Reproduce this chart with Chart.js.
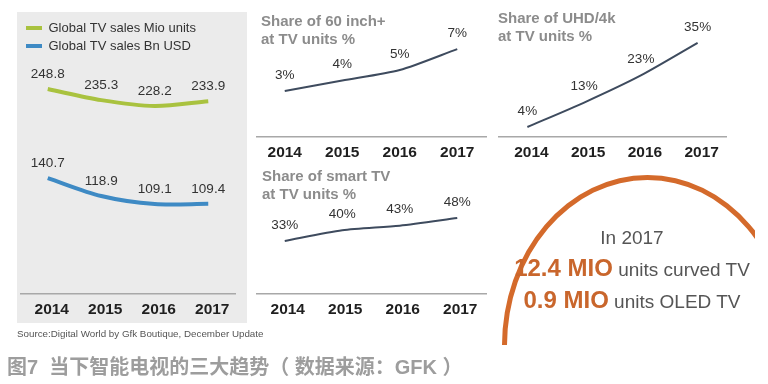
<!DOCTYPE html>
<html>
<head>
<meta charset="utf-8">
<script src="https://cdn.jsdelivr.net/npm/chart.js@4.4.1/dist/chart.umd.min.js"></script>
<style>
  html, body { margin: 0; padding: 0; background: #fff; }
  body { width: 768px; height: 384px; position: relative; overflow: hidden; font-family: "Liberation Sans", Arial, sans-serif; }
  canvas, .box { position: absolute; }
  #panel { left: 17px; top: 12px; width: 230px; height: 311px; background: #ebebeb; }
  #source { position: absolute; left: 17px; top: 328px; font-size: 9.8px; color: #555; }
  #caption { position: absolute; left: 7px; top: 351px; font-size: 20px; font-weight: bold; color: #9d9d9d;
             font-family: "Liberation Sans", "Noto Sans CJK SC", sans-serif; white-space: pre; }
  #ringClip { left: 490px; top: 160px; width: 265px; height: 185px; overflow: hidden; }
  #ring { left: 12px; top: 15px; width: 291px; height: 341px; box-sizing: border-box;
          border: 5px solid #d46a2b; border-radius: 50%; }
  #note { left: 500px; top: 224px; width: 264px; text-align: center; color: #555; }
  #note div { white-space: nowrap; }
  #note b { color: #c9662c; font-size: 24px; }
</style>
</head>
<body>
<div class="box" id="panel"></div>
<canvas id="salesChart" width="230" height="317" style="left:17px;top:12px"></canvas>
<canvas id="inch60Chart" width="232" height="166" style="left:256px;top:8px"></canvas>
<canvas id="uhdChart" width="240" height="166" style="left:496px;top:8px"></canvas>
<canvas id="smartChart" width="232" height="166" style="left:256px;top:166px"></canvas>

<div class="box" id="ringClip"><div class="box" id="ring"></div></div>
<div class="box" id="note">
  <div style="font-size:19px;line-height:28px">In 2017</div>
  <div style="font-size:19px;line-height:32px"><b>12.4 MIO</b> units curved TV</div>
  <div style="font-size:19px;line-height:28px"><b>0.9 MIO</b> units OLED TV</div>
</div>
<div id="source">Source:Digital World by Gfk Boutique, December Update</div>
<div id="caption">图7  当下智能电视的三大趋势（ 数据来源：GFK ）</div>

<script>
const FONT = '"Liberation Sans", Arial, sans-serif';

const years = ['2014', '2015', '2016', '2017'];
const salesUnits = [248.8, 235.3, 228.2, 233.9];
const salesUsd = [140.7, 118.9, 109.1, 109.4];
const share60 = [3, 4, 5, 7];
const shareUhd = [4, 13, 23, 35];
const shareSmart = [33, 40, 43, 48];

// value written above every point
const valueLabels = {
    id: 'valueLabels',
    afterDatasetsDraw(chart, args, opts) {
        const ctx = chart.ctx;
        ctx.save();
        ctx.font = '13.5px ' + FONT;
        ctx.fillStyle = '#333';
        ctx.textAlign = 'center';
        ctx.textBaseline = 'middle';
        chart.data.datasets.forEach((ds, i) => {
            chart.getDatasetMeta(i).data.forEach((pt, j) => {
                ctx.fillText(opts.format(ds.data[j]), pt.x, pt.y - opts.offset);
            });
        });
        ctx.restore();
    }
};

// grey two line heading in the corner
const heading = {
    id: 'heading',
    afterDraw(chart, args, opts) {
        if (!opts.lines) return;
        const ctx = chart.ctx;
        ctx.save();
        ctx.font = 'bold 15px ' + FONT;
        ctx.fillStyle = '#8c8c8c';
        ctx.textBaseline = 'middle';
        opts.lines.forEach((t, i) => ctx.fillText(t, opts.x, opts.y + i * 17.5));
        ctx.restore();
    }
};

function xAxis(labelOffset) {
    return {
        type: 'category',
        offset: true,
        grid: { display: false, drawTicks: false },
        border: { display: true, color: '#a8a8a8', width: 1.5 },
        ticks: {
            color: '#1f1f1f', padding: 6, labelOffset: labelOffset, maxRotation: 0, autoSkip: false,
            font: { family: FONT, size: 15.5, weight: 'bold' }
        }
    };
}

function shareChart(id, data, yMin, yMax, padding, title, labelOffset) {
    return new Chart(document.getElementById(id), {
        type: 'line',
        data: {
            labels: years,
            datasets: [{
                data: data, borderColor: '#3e4b5e', borderWidth: 2, tension: 0.25,
                pointRadius: 0, fill: false, clip: false
            }]
        },
        options: {
            responsive: false, animation: false, events: [],
            layout: { padding: padding },
            scales: { x: xAxis(labelOffset), y: { display: false, min: yMin, max: yMax } },
            plugins: {
                legend: { display: false }, tooltip: { enabled: false },
                valueLabels: { offset: 16, format: v => v + '%' },
                heading: title
            }
        },
        plugins: [valueLabels, heading]
    });
}

new Chart(document.getElementById('salesChart'), {
    type: 'line',
    data: {
        labels: years,
        datasets: [{
            label: 'Global TV sales Mio units', data: salesUnits, borderColor: '#a9c23f',
            borderWidth: 4, tension: 0.3, pointRadius: 0, fill: false, clip: false
        }, {
            label: 'Global TV sales Bn USD', data: salesUsd, borderColor: '#3e8ac4',
            borderWidth: 4, tension: 0.3, pointRadius: 0, fill: false, clip: false
        }]
    },
    options: {
        responsive: false, animation: false, events: [],
        layout: { padding: { top: 4.5, left: 4, right: 12, bottom: 4.4 } },
        scales: { x: xAxis(4), y: { display: false, min: 0, max: 281 } },
        plugins: {
            legend: {
                position: 'top', align: 'start',
                labels: {
                    boxWidth: 16, boxHeight: 4, padding: 5, color: '#333',
                    font: { family: FONT, size: 13 },
                    generateLabels(chart) {
                        return Chart.defaults.plugins.legend.labels.generateLabels(chart).map(item => {
                            item.fillStyle = item.strokeStyle;
                            item.lineWidth = 0;
                            return item;
                        });
                    }
                }
            },
            tooltip: { enabled: false },
            valueLabels: { offset: 15, format: v => v.toFixed(1) }
        }
    },
    plugins: [valueLabels]
});

shareChart('inch60Chart', share60, -1.4, 7.2, { top: 39, left: 0, right: 2, bottom: 6.4 },
    { lines: ['Share of 60 inch+', 'at TV units %'], x: 5, y: 14 }, 0);
shareChart('uhdChart', shareUhd, 0.3, 34.6, { top: 36, left: 3, right: 10, bottom: 6.4 },
    { lines: ['Share of UHD/4k', 'at TV units %'], x: 2, y: 11 }, 4);
shareChart('smartChart', shareSmart, -1.6, 57.8, { top: 37, left: 0, right: 2, bottom: 7.4 },
    { lines: ['Share of smart TV', 'at TV units %'], x: 6, y: 11 }, 3);
</script>
</body>
</html>
